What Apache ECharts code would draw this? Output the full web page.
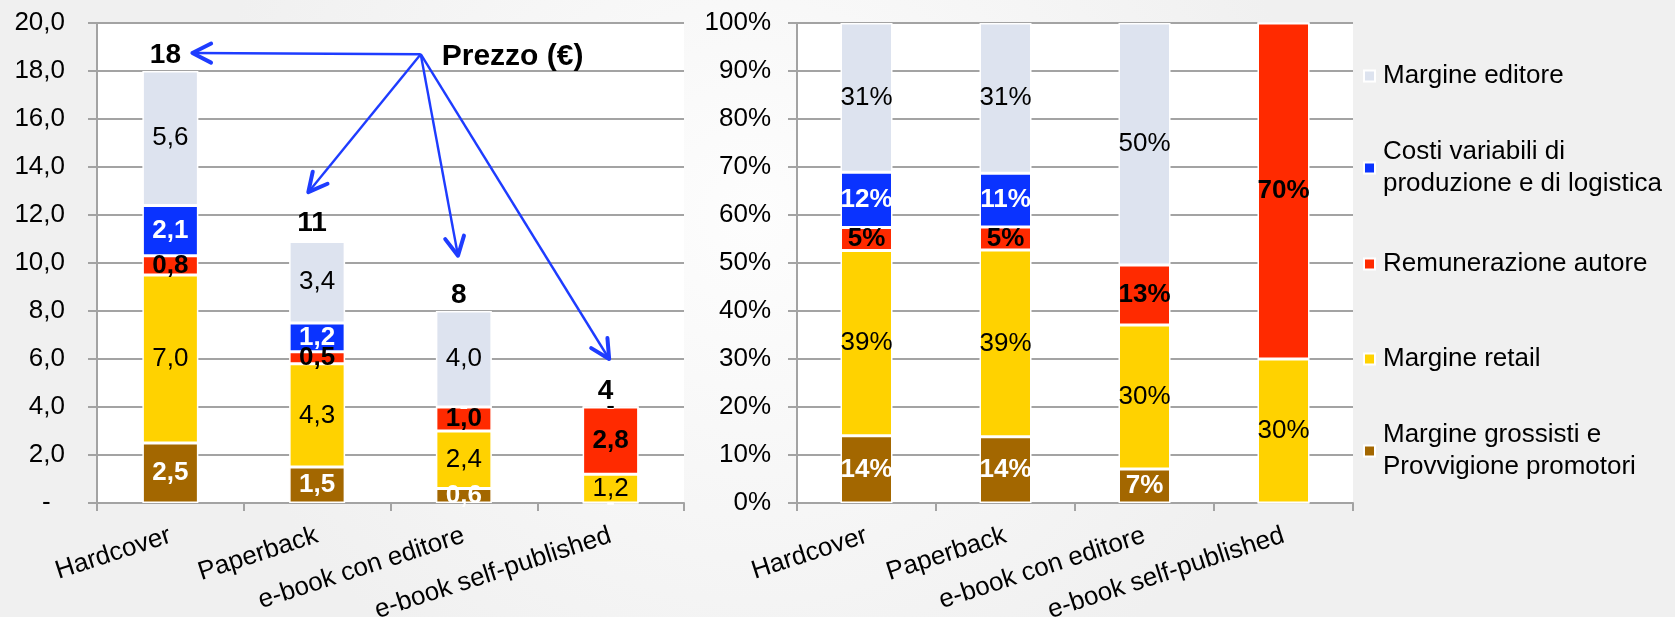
<!DOCTYPE html>
<html>
<head>
<meta charset="utf-8">
<script src="https://cdn.jsdelivr.net/npm/echarts@6/dist/echarts.min.js"></script>
<style>
  html, body { margin: 0; padding: 0; background: #f5f5f5; }
  #chart { width: 1675px; height: 617px; }
</style>
</head>
<body>
<div id="chart"></div>
<script>
// Categorie di libro
const categories = ['Hardcover', 'Paperback', 'e-book con editore', 'e-book self-published'];

// Voci di ripartizione del prezzo (dal basso verso l'alto nella pila)
const seriesNames = [
  'Margine grossisti e\nProvvigione promotori',
  'Margine retail',
  'Remunerazione autore',
  'Costi variabili di\nproduzione e di logistica',
  'Margine editore'
];

// Ripartizione in euro per copia
const grossistiEur = [2.5, 1.5, 0.6, 0];
const retailEur    = [7.0, 4.3, 2.4, 1.2];
const autoreEur    = [0.8, 0.5, 1.0, 2.8];
const costiEur     = [2.1, 1.2, 0, 0];
const editoreEur   = [5.6, 3.4, 4.0, 0];

// Prezzo di copertina (€)
const prezzo = [18, 11, 8, 4];

// Ripartizione in percentuale del prezzo
const grossistiPct = [14.0, 13.8, 7.1, 0];
const retailPct    = [38.6, 38.9, 30.0, 30.0];
const autorePct    = [4.8, 4.8, 12.5, 70.0];
const costiPct     = [11.5, 11.2, 0, 0];
const editorePct   = [31.1, 31.3, 50.4, 0];

const eurData = [grossistiEur, retailEur, autoreEur, costiEur, editoreEur];
const pctData = [grossistiPct, retailPct, autorePct, costiPct, editorePct];

const FONT = '"Liberation Sans", Arial, Helvetica, sans-serif';
const GRID_GRAY = '#a3a3a3';
const colors = ['#a36700', '#ffd200', '#ff2a00', '#0a33ff', '#dde3ef'];
const labelColors = ['#ffffff', '#000000', '#000000', '#ffffff', '#000000'];
const labelWeights = ['bold', 'normal', 'bold', 'bold', 'normal'];

const fmtEur = v => v === 0 ? '-' : v.toFixed(1).replace('.', ',');
const fmtPct = v => v === 0 ? '' : Math.round(v) + '%';

function barSeries(names, data, axisIndex, stack, width, fmt) {
  return names.map((name, i) => ({
    name: name,
    type: 'bar',
    stack: stack,
    xAxisIndex: axisIndex,
    yAxisIndex: axisIndex,
    barWidth: width,
    data: data[i],
    itemStyle: { color: colors[i], borderColor: '#ffffff', borderWidth: 1.5 },
    label: {
      show: true,
      position: 'inside',
      fontFamily: FONT,
      fontSize: 26,
      color: labelColors[i],
      fontWeight: labelWeights[i],
      textBorderWidth: 0,
      formatter: p => fmt(p.value)
    },
    emphasis: { disabled: true },
    silent: true,
    animation: false
  }));
}

const axisLineStyle = { color: GRID_GRAY, width: 2 };

function catAxis(gridIndex) {
  return {
    type: 'category',
    gridIndex: gridIndex,
    data: categories,
    axisLine: { show: true, lineStyle: axisLineStyle },
    axisTick: { show: true, length: 8, lineStyle: axisLineStyle },
    axisLabel: {
      interval: 0, rotate: 18, margin: 32,
      fontFamily: FONT, fontSize: 26, color: '#000'
    }
  };
}

function valAxis(gridIndex, max, step, margin, fmt) {
  return {
    type: 'value',
    gridIndex: gridIndex,
    min: 0, max: max, interval: step,
    axisLine: { show: true, lineStyle: axisLineStyle },
    axisTick: { show: true, inside: false, length: 9, lineStyle: axisLineStyle },
    splitLine: { show: true, lineStyle: { color: GRID_GRAY, width: 2 } },
    axisLabel: { margin: margin, fontFamily: FONT, fontSize: 26, color: '#000', formatter: fmt }
  };
}

// Legenda: una voce per componente, icona allineata alla prima riga
const legendOrder = [4, 3, 2, 1, 0];
const legendTops = [60, 120, 248, 343, 403];
const legends = legendOrder.map((si, k) => {
  const twoLines = seriesNames[si].indexOf('\n') >= 0;
  return {
    orient: 'vertical',
    left: 1363,
    top: legendTops[k],
    padding: 0,
    icon: 'rect',
    itemWidth: 11,
    itemHeight: 11,
    selectedMode: false,
    data: [seriesNames[si]],
    textStyle: {
      fontFamily: FONT, fontSize: 26, lineHeight: 32, color: '#000',
      padding: twoLines ? [32, 0, 0, 3] : [0, 0, 0, 3]
    }
  };
});

const chart = echarts.init(document.getElementById('chart'), null, { renderer: 'canvas' });

chart.setOption({
  animation: false,
  backgroundColor: {
    type: 'radial', x: 0.45, y: 0.35, r: 0.9,
    colorStops: [{ offset: 0, color: '#fdfdfd' }, { offset: 1, color: '#f0f0f0' }]
  },
  grid: [
    { left: 97, top: 23, width: 587, height: 480, show: true, backgroundColor: '#ffffff', borderWidth: 0, containLabel: false, outerBoundsMode: 'none' },
    { left: 797, top: 23, width: 556, height: 480, show: true, backgroundColor: '#ffffff', borderWidth: 0, containLabel: false, outerBoundsMode: 'none' }
  ],
  legend: legends,
  xAxis: [catAxis(0), catAxis(1)],
  yAxis: [
    valAxis(0, 20, 2, 32, v => v === 0 ? '-  ' : v.toFixed(1).replace('.', ',')),
    valAxis(1, 100, 10, 26, v => v + '%')
  ],
  series: [
    ...barSeries(seriesNames, eurData, 0, 'eur', 56, fmtEur),
    ...barSeries(seriesNames, pctData, 1, 'pct', 52, fmtPct),
    {
      name: 'Prezzo',
      type: 'scatter',
      xAxisIndex: 0, yAxisIndex: 0,
      data: prezzo,
      symbolSize: 0,
      silent: true,
      z: 5,
      label: {
        show: true, position: 'top', distance: 2, offset: [-5, 0],
        fontFamily: FONT, fontSize: 28, fontWeight: 'bold', color: '#000000', opacity: 1,
        formatter: p => String(p.value)
      }
    }
  ]
});

// Frecce "Prezzo (€)" ancorate agli assi del primo grafico
const ARROW_COLOR = '#1e3cff';
const cx = i => chart.convertToPixel({ xAxisIndex: 0 }, categories[i]);
const yv = v => chart.convertToPixel({ yAxisIndex: 0 }, v);
const step = cx(1) - cx(0);
const origin = [cx(0) + 1.706 * step, yv(18.7)];
const tips = [
  [cx(0) + 0.15 * step, yv(18.75)],
  [cx(1) - 0.06 * step, yv(12.95)],
  [cx(2) - 0.04 * step, yv(10.3)],
  [cx(3) - 0.01 * step, yv(6.0)]
];

const graphics = [];
tips.forEach(t => {
  graphics.push({
    type: 'line', silent: true, z: 100,
    shape: { x1: origin[0], y1: origin[1], x2: t[0], y2: t[1] },
    style: { stroke: ARROW_COLOR, lineWidth: 2.4 }
  });
  const ang = Math.atan2(origin[1] - t[1], origin[0] - t[0]);
  const len = 21, spread = 27 * Math.PI / 180;
  const a = [t[0] + len * Math.cos(ang + spread), t[1] + len * Math.sin(ang + spread)];
  const b = [t[0] + len * Math.cos(ang - spread), t[1] + len * Math.sin(ang - spread)];
  graphics.push({
    type: 'polyline', silent: true, z: 100,
    shape: { points: [a, t, b] },
    style: { stroke: ARROW_COLOR, lineWidth: 4, fill: null, lineCap: 'round', lineJoin: 'round' }
  });
});
graphics.push({
  type: 'text', silent: true, z: 100,
  x: origin[0] + 21, y: origin[1] + 3,
  style: {
    text: 'Prezzo (€)', fill: '#000',
    font: 'bold 30px ' + FONT,
    textVerticalAlign: 'middle', verticalAlign: 'middle'
  }
});
chart.setOption({ graphic: graphics });
</script>
</body>
</html>
